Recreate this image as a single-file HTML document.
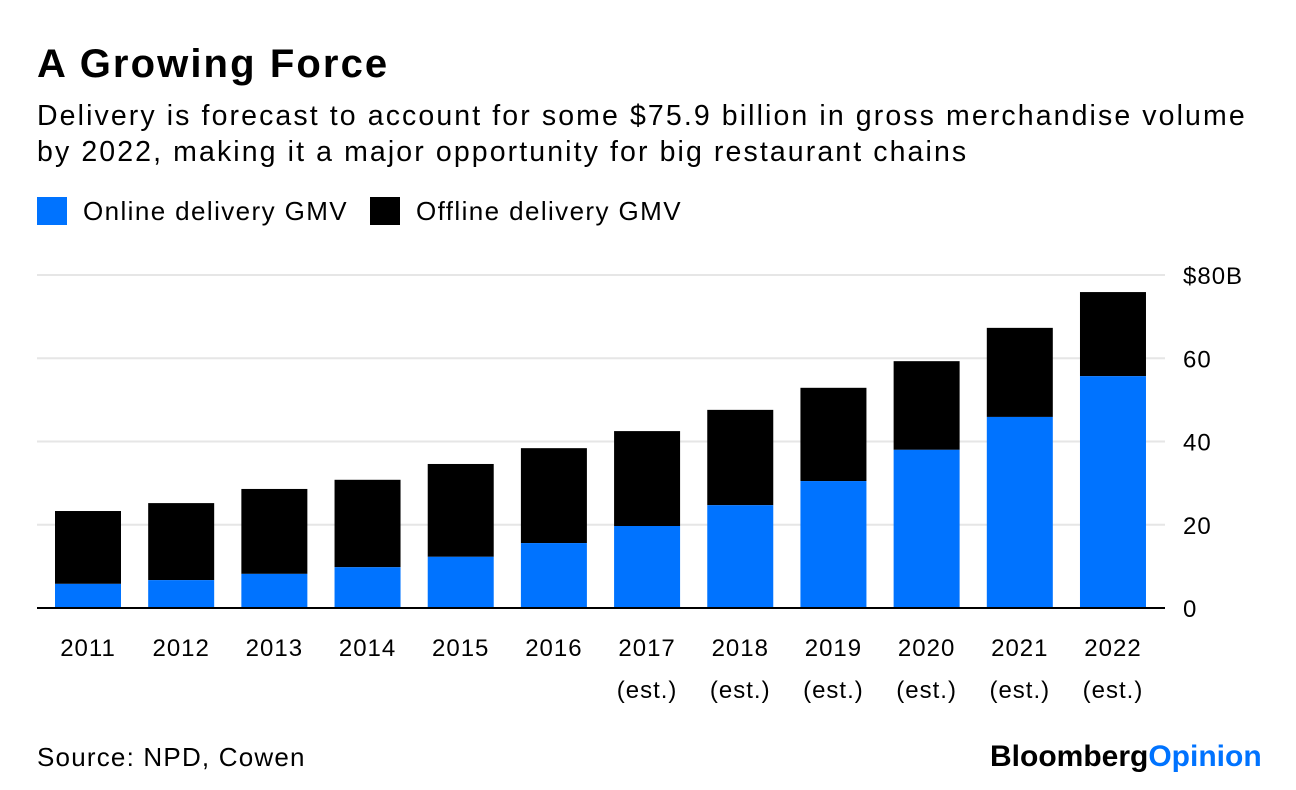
<!DOCTYPE html>
<html><head><meta charset="utf-8"><style>
body{margin:0;width:1296px;height:790px;background:#fff;font-family:"Liberation Sans",sans-serif;color:#000;overflow:hidden;position:relative}
.t{position:absolute;white-space:nowrap}
</style></head><body>
<div class="t" style="left:37px;top:42px;font-size:40px;font-weight:bold;letter-spacing:2.1px">A Growing Force</div>
<div class="t" style="left:37px;top:98px;font-size:28.5px;line-height:36px;letter-spacing:2.1px">Delivery is forecast to account for some $75.9 billion in gross merchandise volume<br>by 2022, making it a major opportunity for big restaurant chains</div>
<div class="t" style="left:37px;top:196px;font-size:26px;letter-spacing:1.4px"><span style="display:inline-block;width:30px;height:28px;background:#0073ff;vertical-align:-5px;margin-right:16px"></span>Online delivery GMV</div>
<div class="t" style="left:370px;top:196px;font-size:26px;letter-spacing:1.4px"><span style="display:inline-block;width:30px;height:28px;background:#000;vertical-align:-5px;margin-right:16px"></span>Offline delivery GMV</div>
<svg id="chart" width="1296" height="790" style="position:absolute;left:0;top:0"></svg>
<div class="t" style="left:37px;top:742px;font-size:26px;letter-spacing:1.2px">Source: NPD, Cowen</div>
<div class="t" style="left:990px;top:740px;font-size:30px;font-weight:bold;letter-spacing:0px">Bloomberg<span style="color:#0073ff">Opinion</span></div>
<script>
const categories=["2011","2012","2013","2014","2015","2016","2017","2018","2019","2020","2021","2022"];
const estLabels=["","","","","","","(est.)","(est.)","(est.)","(est.)","(est.)","(est.)"];
const online=[5.8,6.7,8.2,9.8,12.3,15.6,19.7,24.7,30.5,38.0,45.9,55.7];
const total=[23.3,25.2,28.6,30.8,34.6,38.4,42.5,47.6,52.9,59.3,67.3,75.9];
const ticks=[0,20,40,60,80];
const tickLabels=["0","20","40","60","$80B"];
const NS="http://www.w3.org/2000/svg";
const svg=document.getElementById('chart');
const y=v=>608-v*(333/80);
const x=i=>55+i*93.18;
const bw=66;
function mk(t,a){const e=document.createElementNS(NS,t);for(const k in a)e.setAttribute(k,a[k]);svg.appendChild(e);return e;}
ticks.forEach((t,i)=>{
 const g=mk('line',{x1:37,x2:1165,y1:y(t),y2:y(t),stroke:t===0?'#000':'#e6e6e6','stroke-width':2});
 
 
 const l=mk('text',{x:1183,y:y(t)+9,'font-size':24,'letter-spacing':1,'font-family':'Liberation Sans'});
 l.textContent=tickLabels[i];
 
 
});
categories.forEach((c,i)=>{
 const b1=mk('rect',{x:x(i),y:y(total[i]),width:bw,height:y(online[i])-y(total[i]),fill:'#000'});
 
 
 const b2=mk('rect',{x:x(i),y:y(online[i]),width:bw,height:y(0)-y(online[i])-1,fill:'#0073ff'});
 
 
 const l=mk('text',{x:x(i)+bw/2,y:656,'font-size':24,'letter-spacing':1,'text-anchor':'middle','font-family':'Liberation Sans'});
 l.textContent=c;
 
 
 if(estLabels[i]){const e=mk('text',{x:x(i)+bw/2,y:698,'font-size':24,'letter-spacing':1,'text-anchor':'middle','font-family':'Liberation Sans'});
 e.textContent=estLabels[i];
 
 }
});
</script>
</body></html>
